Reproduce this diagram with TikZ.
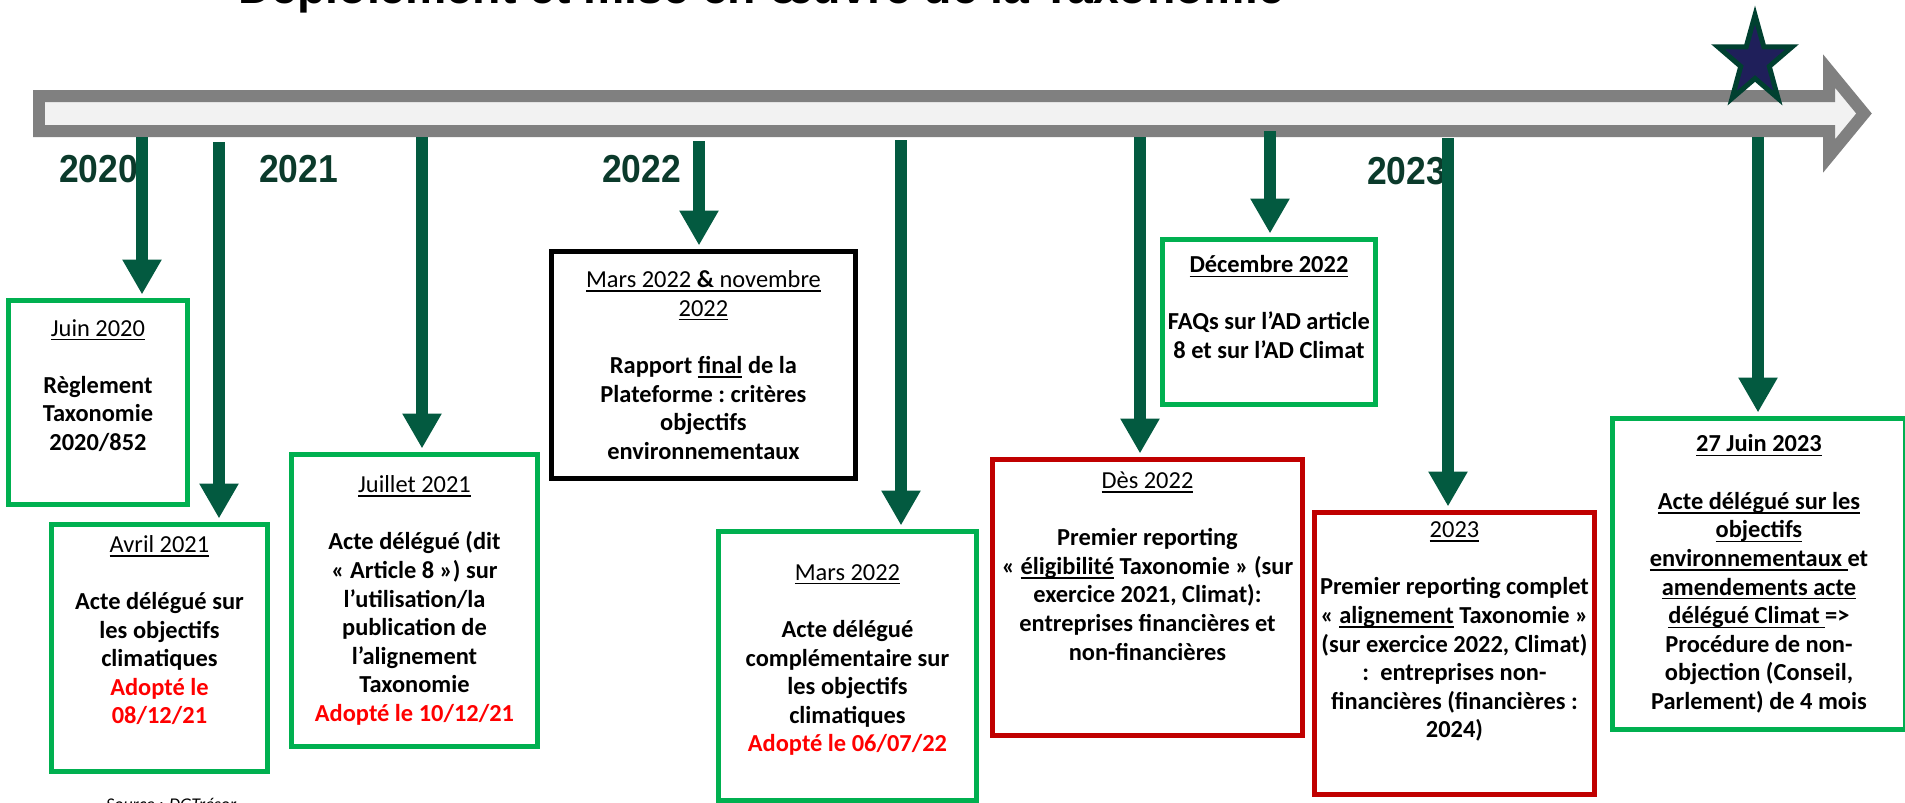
\documentclass[tikz,border=0pt]{standalone}
\usepackage{fontspec}
\setmainfont{Carlito}
\newfontfamily\titlefont{Liberation Sans}
\newfontfamily\yearfont[FakeStretch=0.91]{Liberation Sans}
\usetikzlibrary{arrows.meta}
\definecolor{boxgreen}{HTML}{00B050}
\definecolor{boxred}{HTML}{C00000}
\definecolor{jalongreen}{HTML}{035A40}
\definecolor{yeargreen}{HTML}{0B3A2B}
\definecolor{starblue}{HTML}{1F1F5A}
\definecolor{stargreen}{HTML}{004030}
\definecolor{bargray}{HTML}{808080}
\definecolor{barfill}{HTML}{F2F2F2}
\newcommand{\adopte}[1]{\textcolor{red}{#1}}
\newcommand{\souligne}[1]{\leavevmode\setbox0\hbox{#1}\rlap{\vrule height -1.7pt depth 2.5pt width \wd0}\box0\relax}
\newcommand{\titre}[1]{{\mdseries\souligne{#1}}}
\tikzset{%
	evt/.style     = {draw, line width=0.1cm, align=center, inner sep=0pt, anchor=north west, font=\frenchspacing\bfseries\fontsize{13.9}{16.3}\selectfont},
	vert/.style    = {evt, draw=boxgreen},
	rouge/.style   = {evt, draw=boxred},
	noir/.style    = {evt, draw=black},
	jalon/.style   = {draw=jalongreen, line width=0.24cm, -{Triangle[length=0.7cm,width=0.74cm]}, shorten >=2pt},
	annee/.style   = {text=yeargreen, font=\yearfont\bfseries\fontsize{22.2}{24}\selectfont},
	etoile/.style  = {fill=starblue, draw=stargreen, line width=0.1cm},
}
\begin{document}
\begin{tikzpicture}[x=0.02cm,y=-0.02cm]
	\useasboundingbox (0,0) rectangle (1905,802);
	% titre et source, coupes par le bord
	\node[anchor=base west, font=\titlefont\bfseries\fontsize{26.4}{30}\selectfont] (entete) at (232,3) {Déploiement et mise en œuvre de la Taxonomie};
	\node[anchor=base west, font=\itshape\fontsize{10.2}{12}\selectfont] (source) at (100,810) {Source : DGTrésor};
	% frise
	\draw[draw=bargray, fill=barfill, line width=0.24cm] (39,96) -- (1829,96) -- (1829,71) -- (1864,113.5) -- (1829,156) -- (1829,131) -- (39,131) -- cycle;
	\begin{scope}[shift={(1755,61)}]
		\filldraw[etoile] (-90:39 and 46) -- (-54:15 and 17.5) -- (-18:39 and 46) -- (18:15 and 17.5) -- (54:39 and 46) -- (90:15 and 17.5) -- (126:39 and 46) -- (162:15 and 17.5) -- (198:39 and 46) -- (234:15 and 17.5) -- cycle;
	\end{scope}
	% annees
	\node[annee] (a2020) at (98.5,169) {2020};
	\node[annee] (a2021) at (298.5,169) {2021};
	\node[annee] (a2022) at (641.5,169) {2022};
	\node[annee] (a2023) at (1406.5,171) {2023};
	% evenements
	\node[vert, minimum width=3.58cm, minimum height=4.08cm, text depth=20pt] (juin) at (6,298) {\titre{Juin 2020}\\[16.3pt] Règlement\\ Taxonomie\\ 2020/852};
	\node[vert, minimum width=4.32cm, minimum height=4.94cm, text depth=21pt] (avril) at (49,522) {\titre{Avril 2021}\\[16.3pt] Acte délégué sur\\ les objectifs\\ climatiques\\ \adopte{Adopté le}\\ \adopte{08/12/21}};
	\node[vert, minimum width=4.92cm, minimum height=5.84cm] (juillet) at (289,452) {\titre{Juillet 2021}\\[16.3pt] Acte délégué (dit\\ « Article 8 ») sur\\ l’utilisation/la\\ publication de\\ l’alignement\\ Taxonomie\\ \adopte{Adopté le 10/12/21}};
	\node[noir, minimum width=6.08cm, minimum height=4.54cm] (plateforme) at (549,249) {\titre{Mars 2022 {\bfseries\&} novembre}\\ \titre{2022}\\[16.3pt] Rapport \souligne{final} de la\\ Plateforme : critères\\ objectifs\\ environnementaux};
	\node[vert, minimum width=5.16cm, minimum height=5.38cm, text depth=9pt] (mars) at (716,529) {\titre{Mars 2022}\\[16.3pt] Acte délégué\\ complémentaire sur\\ les objectifs\\ climatiques\\ \adopte{Adopté le 06/07/22}};
	\node[rouge, minimum width=6.2cm, minimum height=5.52cm, text depth=36pt] (des) at (990,457) {\titre{Dès 2022}\\[16.3pt] Premier reporting\\ « \souligne{éligibilité} Taxonomie » (sur\\ exercice 2021, Climat):\\ entreprises financières et\\ non-financières};
	\node[vert, minimum width=4.26cm, minimum height=3.3cm, text depth=17pt] (decembre) at (1160,237) {\souligne{Décembre 2022}\\[16.3pt] FAQs sur l’AD article\\ 8 et sur l’AD Climat};
	\node[rouge, minimum width=5.6cm, minimum height=5.64cm, text depth=27pt] (bilan) at (1312,510) {\titre{2023}\\[16.3pt] Premier reporting complet\\ « \souligne{alignement} Taxonomie »\\ (sur exercice 2022, Climat)\\ :~ entreprises non-\\ financières (financières :\\ 2024)};
	\node[vert, minimum width=5.86cm, minimum height=6.22cm] (acte) at (1610,416) {\souligne{27 Juin 2023}\\[16.3pt] \souligne{Acte délégué sur les}\\ \souligne{objectifs}\\ \souligne{environnementaux }et\\ \souligne{amendements acte}\\ \souligne{délégué Climat }=>\\ Procédure de non-\\ objection (Conseil,\\ Parlement) de 4 mois};
	% fleches
	\coordinate (t1) at (142,137);
	\coordinate (t2) at (219,142);
	\coordinate (t3) at (422,137);
	\coordinate (t4) at (699,141);
	\coordinate (t5) at (901,140);
	\coordinate (t6) at (1140,137);
	\coordinate (t7) at (1270,131);
	\coordinate (t8) at (1448,138);
	\coordinate (t9) at (1758,137);
	\draw[jalon] (t1) -- (t1 |- juin.north);
	\draw[jalon] (t2) -- (t2 |- avril.north);
	\draw[jalon] (t3) -- (t3 |- juillet.north);
	\draw[jalon] (t4) -- (t4 |- plateforme.north);
	\draw[jalon] (t5) -- (t5 |- mars.north);
	\draw[jalon] (t6) -- (t6 |- des.north);
	\draw[jalon] (t7) -- (t7 |- decembre.north);
	\draw[jalon] (t8) -- (t8 |- bilan.north);
	\draw[jalon] (t9) -- (t9 |- acte.north);
\end{tikzpicture}
\end{document}
